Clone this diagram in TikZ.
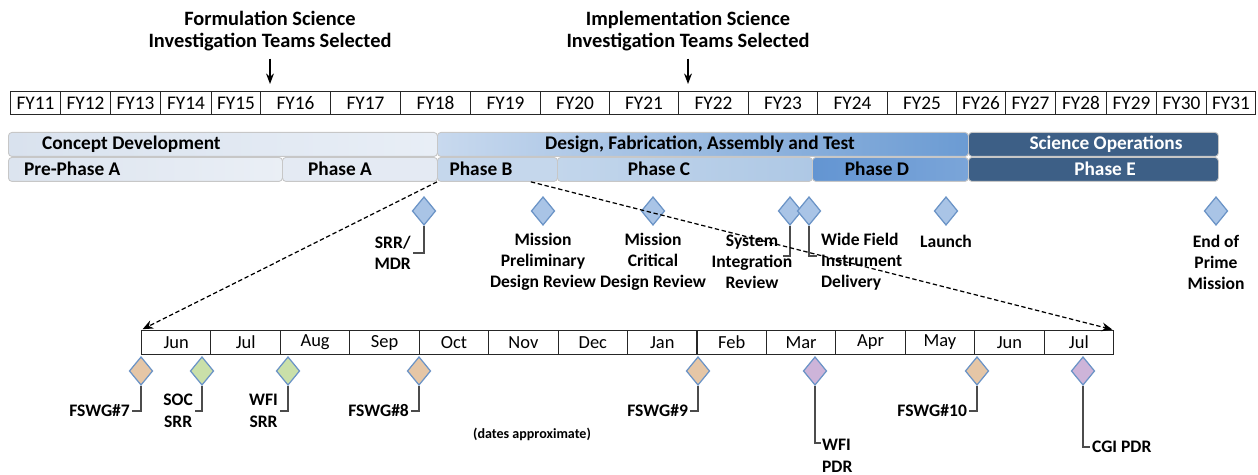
\documentclass[tikz,border=0pt]{standalone}
\usepackage{fontspec}
\setmainfont{Carlito}
\usetikzlibrary{shapes.geometric,arrows.meta,positioning}
\definecolor{cdleft}{HTML}{D9E2EE}
\definecolor{cdright}{HTML}{E8EEF6}
\definecolor{dfleft}{HTML}{C8D9EE}
\definecolor{dfright}{HTML}{6B9BD3}
\definecolor{sciops}{HTML}{3D5F86}
\definecolor{prephase}{HTML}{DCE4EF}
\definecolor{phasea}{HTML}{E4EAF3}
\definecolor{phaseb}{HTML}{C5D7EC}
\definecolor{phasec}{HTML}{AEC8E5}
\definecolor{phased}{HTML}{6395D2}
\definecolor{msfill}{HTML}{A9C4E6}
\definecolor{msdraw}{HTML}{6A93C6}
\definecolor{fswg}{HTML}{E5C6A6}
\definecolor{srrgreen}{HTML}{CAE0A9}
\definecolor{pdrpurple}{HTML}{CDB4D9}

\begin{document}
\begin{tikzpicture}[x=0.02cm, y=-0.02cm,
  every node/.style={inner sep=1pt},
  head/.style={font=\fontsize{11.6}{13}\selectfont\bfseries, align=center},
  cell/.style={draw=black!85, line width=0.6pt, minimum height=0.46cm, inner sep=0pt},
  fylab/.style={cell, font=\fontsize{11}{12}\selectfont},
  molab/.style={cell, font=\fontsize{10.5}{12}\selectfont, minimum width=1.3886cm, minimum height=0.48cm},
  bar/.style={draw=black!22, line width=0.5pt, rounded corners=2pt, minimum height=0.48cm, inner sep=0pt},
  barlab/.style={font=\fontsize{11}{12}\selectfont\bfseries},
  ms/.style={shape=diamond, draw=msdraw, fill=msfill, line width=0.7pt,
    minimum width=0.47cm, minimum height=0.57cm, inner sep=0pt},
  mslab/.style={font=\fontsize{10}{12}\selectfont\bfseries, align=center},
  bmlab/.style={font=\fontsize{10}{12.5}\selectfont\bfseries, align=center},
  tick/.style={draw=black!70, line width=0.8pt},
  pointer/.style={line width=0.8pt, -{Stealth[length=6pt,width=4.5pt]}},
  zoomline/.style={dash pattern=on 2.5pt off 1.5pt, line width=0.7pt,
    -{Stealth[length=6pt,width=5pt]}, shorten >=1pt}
]
\useasboundingbox (0,0) rectangle (1258,475);

\node[head] (form) at (270,31) {Formulation Science\\Investigation Teams Selected};
\node[head] (impl) at (688,31) {Implementation Science\\Investigation Teams Selected};

\foreach \n/\a/\b in {11/10/60,12/60/110,13/110/160,14/160/211,15/211/260,
  16/260/330,17/330/400,18/400/470,19/470/540,20/540/609,21/609/678,22/678/748,
  23/748/817,24/817/887,25/887/956,26/956/1005,27/1005/1055,28/1055/1106,
  29/1106/1156,30/1156/1206,31/1206/1255}
  \node[fylab, minimum width={(\b-\a)*0.02cm}, anchor=north west] (fy\n) at (\a,91) {FY\n};

\coordinate (formtip) at (270,84);
\coordinate (impltip) at (688,84);
\draw[pointer, shorten <=3pt] (form.south) -- (formtip);
\draw[pointer, shorten <=3pt] (impl.south) -- (impltip);

\foreach \nm/\a/\b/\y/\cl/\cr in {cdev/8/437/132/cdleft/cdright,
  dfat/437/968/132/dfleft/dfright, sops/968/1218/132/sciops/sciops,
  ppa/8/282/157/prephase/prephase!60!white, pha/282/437/157/phasea/phasea,
  phb/437/557/157/phaseb/phaseb, phc/557/812/157/phasec!75!white/phasec,
  phd/812/968/157/phased/phased!85!white, phe/968/1218/157/sciops/sciops}
  \node[bar, left color=\cl, right color=\cr, minimum width={(\b-\a)*0.02cm},
    anchor=north west] (\nm) at (\a,\y) {};

\node[barlab, anchor=west] (cdevlab) at (40,144) {Concept Development};
\node[barlab] (dfatlab) at (700,144) {Design, Fabrication, Assembly and Test};
\node[barlab, text=white] (sopslab) at (1106,144) {Science Operations};
\node[barlab, anchor=west] (ppalab) at (22,169) {Pre-Phase A};
\node[barlab] (phalab) at (340,169) {Phase A};
\node[barlab] (phblab) at (481,169) {Phase B};
\node[barlab] (phclab) at (659,169) {Phase C};
\node[barlab] (phdlab) at (877,169) {Phase D};
\node[barlab, text=white] (phelab) at (1105,169) {Phase E};

\node[ms] (srr) at (424,211) {};
\node[ms] (mpdr) at (543,211) {};
\node[ms] (mcdr) at (653,211) {};
\node[ms] (sir) at (790,211) {};
\node[ms] (wfid) at (809,211) {};
\node[ms] (launch) at (946,211) {};
\node[ms] (eopm) at (1216,211) {};

\node[mslab, anchor=east] (srrlab) at (413,253) {SRR/\\MDR};
\node[mslab] (mpdrlab) at (543,262) {Mission\\Preliminary\\Design Review};
\node[mslab] (mcdrlab) at (653,262) {Mission\\Critical\\Design Review};
\node[mslab] (sirlab) at (752,262) {System\\Integration\\Review};
\node[mslab, align=left, anchor=west] (wfidlab) at (819,262) {Wide Field\\Instrument\\Delivery};
\node[mslab] (launchlab) at (946,241) {Launch};
\node[mslab] (eopmlab) at (1216,262) {End of\\Prime\\Mission};

\coordinate (sirend) at (783,256);
\coordinate (wfidend) at (817,256);
\draw[tick] (srr.south) |- (srrlab.east);
\draw[tick] (sir.south) |- (sirend);
\draw[tick] (wfid.south) |- (wfidend);

\foreach \m [count=\i from 0] in {Jun,Jul,Aug,Sep,Oct,Nov,Dec,Jan,Feb,Mar,Apr,May,Jun,Jul}
  \node[molab, anchor=north west] (mo\i) at ({141+69.43*\i},330) {\m};

\draw[zoomline] (phb.south west) -- (mo0.north west);
\draw[zoomline] ([xshift=-0.54cm]phb.south east) -- (mo13.north east);

\foreach \nm/\x/\c in {fs7/141/fswg, socsrr/202/srrgreen, wfisrr/288/srrgreen,
  fs8/419/fswg, fs9/698/fswg, wfipdr/815/pdrpurple, fs10/977/fswg, cgipdr/1083/pdrpurple}
  \node[ms, fill=\c] (\nm) at (\x,371) {};

\node[bmlab, anchor=east] (fs7lab) at (132,411) {FSWG\#7};
\node[bmlab, anchor=east] (socsrrlab) at (195,411) {SOC\\SRR};
\node[bmlab, anchor=east] (wfisrrlab) at (280,411) {WFI\\SRR};
\node[bmlab, anchor=east] (fs8lab) at (411,411) {FSWG\#8};
\node[font=\fontsize{8}{9}\selectfont\bfseries] (dates) at (532,434) {(dates approximate)};
\node[bmlab, anchor=east] (fs9lab) at (690,411) {FSWG\#9};
\node[bmlab, align=left, anchor=west] (wfipdrlab) at (820,456) {WFI\\PDR};
\node[bmlab, anchor=east] (fs10lab) at (969,411) {FSWG\#10};
\node[bmlab, anchor=west] (cgipdrlab) at (1090,447) {CGI PDR};

\coordinate (wfipdrend) at (821,443);
\draw[tick] (fs7.south) |- (fs7lab.east);
\draw[tick] (socsrr.south) |- (socsrrlab.east);
\draw[tick] (wfisrr.south) |- (wfisrrlab.east);
\draw[tick] (fs8.south) |- (fs8lab.east);
\draw[tick] (fs9.south) |- (fs9lab.east);
\draw[tick] (wfipdr.south) |- (wfipdrend);
\draw[tick] (fs10.south) |- (fs10lab.east);
\draw[tick] (cgipdr.south) |- (cgipdrlab.west);
\end{tikzpicture}
\end{document}
